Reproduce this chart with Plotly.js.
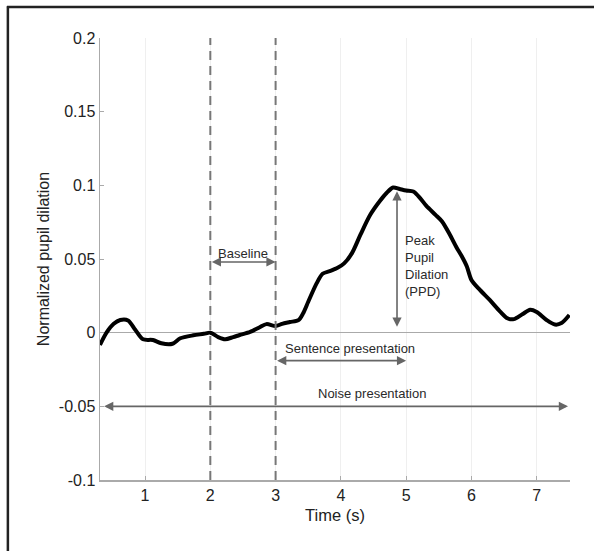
<!DOCTYPE html>
<html>
<head>
<meta charset="utf-8">
<script src="https://cdn.plot.ly/plotly-3.0.1.min.js"></script>
<style>html,body{margin:0;padding:0;background:#fff}#chart{width:594px;height:551px}</style>
</head>
<body>
<div id="chart"></div>
<script>
// Time (s)
const timeS = [0.31, 0.41, 0.52, 0.62, 0.74, 0.85, 0.97, 1.12, 1.25, 1.42, 1.54, 1.74, 1.9, 2.0, 2.12, 2.23, 2.35, 2.45, 2.61, 2.75, 2.86, 3.0, 3.1, 3.22, 3.35, 3.42, 3.5, 3.63, 3.72, 3.83, 3.95, 4.05, 4.17, 4.30, 4.45, 4.60, 4.70, 4.80, 4.90, 5.00, 5.11, 5.22, 5.31, 5.45, 5.55, 5.67, 5.77, 5.85, 5.93, 6.0, 6.13, 6.28, 6.44, 6.55, 6.65, 6.78, 6.90, 7.0, 7.15, 7.28, 7.38, 7.5];
// Normalized pupil dilation
const dilation = [-0.0083, 0.0, 0.006, 0.0086, 0.0083, 0.002, -0.0045, -0.005, -0.0072, -0.0075, -0.0038, -0.0018, -0.0008, 0.0, -0.003, -0.0045, -0.003, -0.0016, 0.0005, 0.0035, 0.0058, 0.0045, 0.006, 0.0072, 0.0085, 0.013, 0.021, 0.0336, 0.040, 0.0418, 0.0440, 0.047, 0.054, 0.0665, 0.080, 0.0895, 0.0948, 0.0985, 0.0975, 0.0965, 0.0958, 0.091, 0.086, 0.080, 0.0755, 0.0665, 0.058, 0.052, 0.0449, 0.0358, 0.029, 0.0222, 0.0143, 0.0098, 0.0092, 0.0125, 0.0155, 0.0140, 0.0086, 0.0055, 0.0065, 0.012];

const xTicks = [1, 2, 3, 4, 5, 6, 7];
const yTicks = [-0.1, -0.05, 0, 0.05, 0.1, 0.15, 0.2];
const yTickText = ['-0.1', '-0.05', '0', '0.05', '0.1', '0.15', '0.2'];

// Epochs (s)
const baselineWindow = [2, 3];
const sentenceWindow = [3, 5];
const noiseWindow = [0.35, 7.48];
const ppdTime = 4.86;
const ppdRange = [0.003, 0.096];
const baselineLevel = 0.048;
const sentenceLevel = -0.019;
const noiseLevel = -0.05;

const labelBaseline = 'Baseline';
const labelPPD = 'Peak<br>Pupil<br>Dilation<br>(PPD)';
const labelSentence = 'Sentence presentation';
const labelNoise = 'Noise presentation';

const FONT = 'Liberation Sans, Arial, Helvetica, sans-serif';
const ARROW = '#666666';

function dblArrow(x0, y0, x1, y1) {
  return {x: x1, y: y1, ax: x0, ay: y0, xref: 'x', yref: 'y', axref: 'x', ayref: 'y',
    text: '', showarrow: true, arrowhead: 2, startarrowhead: 2, arrowside: 'end+start',
    arrowsize: 1.15, startarrowsize: 1.15, arrowwidth: 1.6, arrowcolor: ARROW};
}
function label(x, y, text, align, xanchor) {
  return {x: x, y: y, xref: 'x', yref: 'y', text: text, showarrow: false,
    align: align, xanchor: xanchor, yanchor: 'middle',
    font: {family: FONT, size: 13, color: '#2a2a2a'}};
}

const traces = [{
  x: timeS, y: dilation, type: 'scatter', mode: 'lines',
  line: {color: '#000', width: 4, shape: 'spline', smoothing: 0.8},
  hoverinfo: 'skip', showlegend: false
}];

const shapes = [
  {type: 'line', xref: 'x', yref: 'y', x0: baselineWindow[0], x1: baselineWindow[0], y0: -0.1, y1: 0.2,
   line: {color: '#777', width: 2, dash: '9px,6px'}},
  {type: 'line', xref: 'x', yref: 'y', x0: baselineWindow[1], x1: baselineWindow[1], y0: -0.1, y1: 0.2,
   line: {color: '#777', width: 2, dash: '9px,6px'}},
  // outer frame (top and left)
  {type: 'line', xref: 'paper', yref: 'paper', x0: -0.198, x1: 1.2, y0: 1.07, y1: 1.07,
   line: {color: '#222', width: 2.5}},
  {type: 'line', xref: 'paper', yref: 'paper', x0: -0.196, x1: -0.196, y0: 1.072, y1: -0.2,
   line: {color: '#222', width: 2.5}}
];

const annotations = [
  dblArrow(baselineWindow[0], baselineLevel, baselineWindow[1], baselineLevel),
  label((baselineWindow[0] + baselineWindow[1]) / 2, baselineLevel + 0.0055, labelBaseline, 'center', 'center'),
  dblArrow(ppdTime, ppdRange[0], ppdTime, ppdRange[1]),
  label(ppdTime + 0.09, 0.0455, labelPPD, 'left', 'left'),
  dblArrow(sentenceWindow[0], sentenceLevel, sentenceWindow[1], sentenceLevel),
  label(4.14, sentenceLevel + 0.0085, labelSentence, 'center', 'center'),
  dblArrow(noiseWindow[0], noiseLevel, noiseWindow[1], noiseLevel),
  label(4.48, noiseLevel + 0.009, labelNoise, 'center', 'center')
];

const layout = {
  width: 594, height: 551,
  margin: {l: 100, r: 24, t: 38, b: 71},
  paper_bgcolor: '#fff', plot_bgcolor: '#fff',
  font: {family: FONT, color: '#222'},
  showlegend: false,
  xaxis: {
    range: [0.31, 7.51], tickvals: xTicks, ticktext: xTicks.map(String),
    showgrid: true, gridcolor: '#efefef', gridwidth: 1,
    zeroline: false, showline: true, linecolor: '#aaa', linewidth: 1.5,
    ticks: 'inside', ticklen: 4, tickcolor: '#aaa',
    tickfont: {family: FONT, size: 16, color: '#222'},
    title: {text: 'Time (s)', font: {family: FONT, size: 16.5, color: '#222'}, standoff: 6}
  },
  yaxis: {
    range: [-0.1, 0.2], tickvals: yTicks, ticktext: yTickText,
    showgrid: false, zeroline: true, zerolinecolor: '#aaa', zerolinewidth: 1.5,
    showline: true, linecolor: '#aaa', linewidth: 1.5,
    ticks: 'inside', ticklen: 4, tickcolor: '#aaa',
    tickfont: {family: FONT, size: 16, color: '#222'},
    title: {text: 'Normalized pupil dilation', font: {family: FONT, size: 16, color: '#222'}, standoff: 5}
  },
  shapes: shapes,
  annotations: annotations
};

Plotly.newPlot('chart', traces, layout, {displayModeBar: false, staticPlot: true});
</script>
</body>
</html>
